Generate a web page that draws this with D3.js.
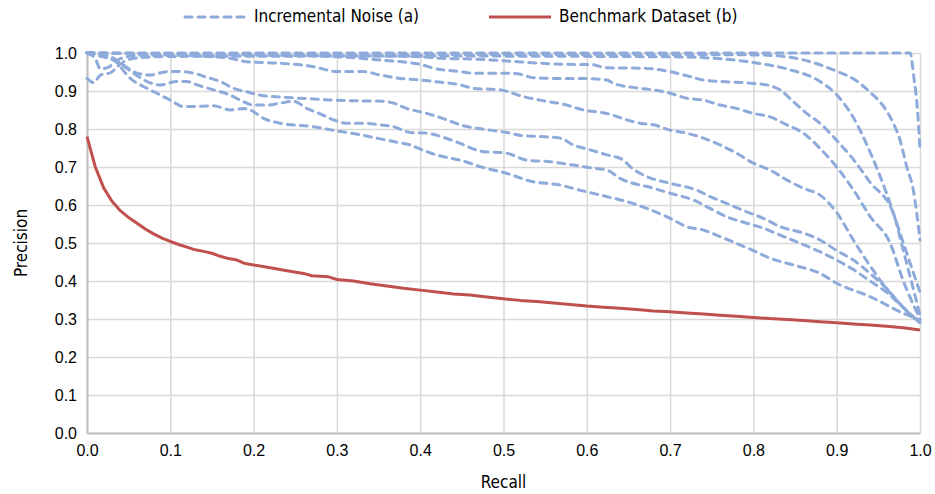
<!DOCTYPE html>
<html>
<head>
<meta charset="utf-8">
<script src="https://cdn.jsdelivr.net/npm/d3@7"></script>
<style>
  html, body { margin: 0; padding: 0; background: #fff; }
  svg { display: block; font-family: "Liberation Sans Narrow", "DejaVu Sans Condensed", "Open Sans", sans-serif; }
</style>
</head>
<body>
<svg id="chart" width="935" height="494"></svg>
<script>
const X_TICKS = [0, 0.1, 0.2, 0.3, 0.4, 0.5, 0.6, 0.7, 0.8, 0.9, 1.0];
const Y_TICKS = [0, 0.1, 0.2, 0.3, 0.4, 0.5, 0.6, 0.7, 0.8, 0.9, 1.0];

// red: benchmark dataset (b)
const benchmark = [
  [0, 0.78], [0.01, 0.70], [0.02, 0.645], [0.03, 0.61], [0.04, 0.585], [0.05, 0.567],
  [0.06, 0.552], [0.07, 0.537], [0.08, 0.524], [0.09, 0.513], [0.1, 0.504], [0.11, 0.496],
  [0.12, 0.489], [0.13, 0.482], [0.14, 0.478], [0.15, 0.473], [0.16, 0.465], [0.17, 0.459],
  [0.18, 0.455], [0.19, 0.446], [0.2, 0.442], [0.22, 0.435], [0.24, 0.427], [0.26, 0.42],
  [0.27, 0.414], [0.29, 0.411], [0.3, 0.404], [0.32, 0.40], [0.34, 0.393], [0.36, 0.387],
  [0.38, 0.381], [0.4, 0.376], [0.42, 0.371], [0.44, 0.366], [0.46, 0.363], [0.48, 0.358],
  [0.5, 0.353], [0.52, 0.349], [0.54, 0.346], [0.56, 0.342], [0.58, 0.338], [0.6, 0.334],
  [0.62, 0.331], [0.64, 0.328], [0.66, 0.325], [0.68, 0.321], [0.7, 0.319], [0.72, 0.316],
  [0.74, 0.313], [0.76, 0.31], [0.78, 0.307], [0.8, 0.304], [0.82, 0.301], [0.84, 0.299],
  [0.86, 0.296], [0.88, 0.293], [0.9, 0.29], [0.92, 0.287], [0.94, 0.284], [0.96, 0.281],
  [0.98, 0.277], [1.0, 0.271],
];

// blue: incremental noise (a), one array per noise level
const noiseT1 = [
  [0, 1.0], [0.2, 1.0], [0.4, 1.0], [0.6, 1.0], [0.8, 1.0], [0.9, 1.0], [0.988, 1.0],
  [0.993, 0.93], [0.997, 0.85], [1.0, 0.745],
];
const noiseT2 = [
  [0, 1.0], [0.01, 0.985], [0.016, 0.958], [0.025, 0.962], [0.04, 0.985], [0.06, 0.993],
  [0.3, 0.996], [0.6, 0.996], [0.8, 0.995], [0.84, 0.99], [0.86, 0.982], [0.9, 0.952],
  [0.92, 0.932], [0.94, 0.897], [0.956, 0.86], [0.968, 0.815], [0.976, 0.771],
  [0.984, 0.701], [0.992, 0.639], [1.0, 0.508],
];
const noiseT3 = [
  [0, 0.933], [0.008, 0.922], [0.016, 0.942], [0.028, 0.948], [0.044, 0.977], [0.056, 0.986],
  [0.072, 0.989], [0.1, 0.991], [0.4, 0.992], [0.7, 0.99], [0.76, 0.985], [0.8, 0.975],
  [0.84, 0.958], [0.88, 0.925], [0.9, 0.89], [0.92, 0.83], [0.94, 0.74], [0.96, 0.63],
  [0.98, 0.5], [1.0, 0.37],
];
const noiseM3 = [
  [0, 1.0], [0.2, 0.995], [0.4, 0.99], [0.424, 0.986], [0.464, 0.984], [0.504, 0.979],
  [0.544, 0.973], [0.584, 0.97], [0.604, 0.97], [0.624, 0.961], [0.664, 0.96], [0.68, 0.958],
  [0.7, 0.951], [0.72, 0.94], [0.74, 0.929], [0.76, 0.925], [0.78, 0.923], [0.8, 0.92],
  [0.82, 0.914], [0.832, 0.903], [0.848, 0.872], [0.864, 0.841], [0.88, 0.815], [0.9, 0.77],
  [0.92, 0.72], [0.94, 0.66], [0.968, 0.578], [0.98, 0.48], [1.0, 0.31],
];
const noiseM2 = [
  [0, 1.0], [0.2, 0.995], [0.3, 0.99], [0.348, 0.982], [0.4, 0.97], [0.416, 0.96],
  [0.448, 0.951], [0.464, 0.947], [0.504, 0.947], [0.52, 0.944], [0.536, 0.935],
  [0.564, 0.933], [0.592, 0.933], [0.624, 0.929], [0.632, 0.92], [0.664, 0.907],
  [0.68, 0.903], [0.7, 0.894], [0.72, 0.881], [0.74, 0.876], [0.76, 0.863], [0.78, 0.854],
  [0.8, 0.841], [0.82, 0.832], [0.84, 0.811], [0.86, 0.789], [0.88, 0.749], [0.9, 0.7],
  [0.92, 0.64], [0.94, 0.57], [0.964, 0.5], [0.98, 0.4], [1.0, 0.3],
];
const noiseM1 = [
  [0, 1.0], [0.1, 0.995], [0.15, 0.99], [0.172, 0.986], [0.192, 0.977], [0.232, 0.973],
  [0.272, 0.964], [0.3, 0.951], [0.332, 0.951], [0.352, 0.942], [0.376, 0.933], [0.4, 0.929],
  [0.416, 0.925], [0.448, 0.916], [0.464, 0.907], [0.496, 0.903], [0.524, 0.885],
  [0.544, 0.876], [0.572, 0.865], [0.596, 0.85], [0.624, 0.841], [0.648, 0.824],
  [0.664, 0.815], [0.68, 0.811], [0.7, 0.797], [0.72, 0.789], [0.74, 0.776], [0.76, 0.758],
  [0.78, 0.736], [0.8, 0.71], [0.82, 0.692], [0.84, 0.666], [0.86, 0.644], [0.88, 0.626],
  [0.9, 0.58], [0.92, 0.508], [0.94, 0.44], [0.96, 0.38], [0.98, 0.33], [1.0, 0.29],
];
const noiseL3 = [
  [0, 1.0], [0.02, 0.995], [0.032, 0.986], [0.044, 0.968], [0.06, 0.947], [0.076, 0.942],
  [0.096, 0.951], [0.112, 0.951], [0.128, 0.947], [0.144, 0.936], [0.16, 0.925],
  [0.176, 0.907], [0.192, 0.898], [0.208, 0.889], [0.24, 0.883], [0.264, 0.88],
  [0.296, 0.876], [0.328, 0.874], [0.348, 0.874], [0.368, 0.868], [0.384, 0.854],
  [0.408, 0.841], [0.432, 0.824], [0.448, 0.811], [0.484, 0.797], [0.504, 0.791],
  [0.524, 0.782], [0.544, 0.78], [0.568, 0.776], [0.584, 0.758], [0.604, 0.745],
  [0.624, 0.732], [0.644, 0.718], [0.652, 0.701], [0.672, 0.675], [0.7, 0.657],
  [0.732, 0.639], [0.748, 0.622], [0.768, 0.604], [0.792, 0.582], [0.812, 0.565],
  [0.832, 0.543], [0.86, 0.526], [0.88, 0.508], [0.9, 0.48], [0.92, 0.455], [0.94, 0.42],
  [0.96, 0.38], [0.98, 0.33], [1.0, 0.29],
];
const noiseL2 = [
  [0, 1.0], [0.02, 0.99], [0.036, 0.977], [0.056, 0.947], [0.072, 0.925], [0.088, 0.916],
  [0.108, 0.925], [0.12, 0.925], [0.132, 0.916], [0.152, 0.903], [0.172, 0.889],
  [0.184, 0.876], [0.2, 0.863], [0.216, 0.863], [0.232, 0.868], [0.248, 0.873],
  [0.264, 0.854], [0.28, 0.84], [0.296, 0.824], [0.312, 0.815], [0.332, 0.815],
  [0.352, 0.811], [0.368, 0.806], [0.388, 0.791], [0.408, 0.789], [0.432, 0.775],
  [0.448, 0.762], [0.472, 0.742], [0.504, 0.736], [0.528, 0.718], [0.556, 0.714],
  [0.584, 0.705], [0.604, 0.698], [0.624, 0.692], [0.64, 0.67], [0.68, 0.644], [0.7, 0.631],
  [0.728, 0.613], [0.748, 0.591], [0.768, 0.569], [0.792, 0.552], [0.812, 0.539],
  [0.832, 0.521], [0.852, 0.503], [0.88, 0.477], [0.9, 0.455], [0.92, 0.43], [0.94, 0.4],
  [0.96, 0.37], [0.98, 0.33], [1.0, 0.29],
];
const noiseL1 = [
  [0, 1.0], [0.02, 0.99], [0.032, 0.982], [0.052, 0.933], [0.072, 0.907], [0.084, 0.894],
  [0.1, 0.876], [0.116, 0.859], [0.128, 0.859], [0.152, 0.861], [0.172, 0.85],
  [0.188, 0.854], [0.196, 0.85], [0.212, 0.828], [0.232, 0.815], [0.272, 0.806],
  [0.3, 0.795], [0.32, 0.788], [0.352, 0.774], [0.368, 0.767], [0.388, 0.758], [0.408, 0.74],
  [0.432, 0.725], [0.448, 0.718], [0.472, 0.701], [0.504, 0.683], [0.536, 0.661],
  [0.564, 0.654], [0.592, 0.639], [0.624, 0.622], [0.648, 0.609], [0.672, 0.591],
  [0.7, 0.565], [0.72, 0.543], [0.74, 0.534], [0.76, 0.517], [0.78, 0.499], [0.8, 0.48],
  [0.82, 0.46], [0.848, 0.442], [0.88, 0.42], [0.9, 0.394], [0.94, 0.359], [0.98, 0.315],
  [1.0, 0.297],
];

const noiseSeries = [noiseL1, noiseL2, noiseL3, noiseM1, noiseM2, noiseM3, noiseT3, noiseT2, noiseT1];

const BLUE = '#8eaadb';
const RED = '#c0504d';
const GRID = '#d9d9d9';
const AXIS = '#bfbfbf';

const margin = { top: 53, right: 15, bottom: 61, left: 87 };
const W = 935;
const H = 494;
const innerW = W - margin.left - margin.right;
const innerH = H - margin.top - margin.bottom;

const svg = d3.select('#chart');
const x = d3.scaleLinear().domain([0, 1]).range([0, innerW]);
const y = d3.scaleLinear().domain([0, 1]).range([innerH, 0]);

const g = svg.append('g').attr('transform', `translate(${margin.left},${margin.top})`);

// grid
g.append('g')
  .call(d3.axisBottom(x).tickValues(X_TICKS).tickSize(innerH).tickFormat(''))
  .call(a => a.select('.domain').remove())
  .call(a => a.selectAll('line').attr('stroke', GRID).attr('stroke-width', 1.5));
g.append('g')
  .call(d3.axisLeft(y).tickValues(Y_TICKS).tickSize(-innerW).tickFormat(''))
  .call(a => a.select('.domain').remove())
  .call(a => a.selectAll('line').attr('stroke', GRID).attr('stroke-width', 1.5));

// axes
g.append('g')
  .attr('transform', `translate(0,${innerH})`)
  .call(d3.axisBottom(x).tickValues(X_TICKS).tickSize(0).tickPadding(12).tickFormat(d3.format('.1f')))
  .call(a => a.select('.domain').attr('stroke', AXIS).attr('stroke-width', 2))
  .call(a => a.selectAll('text').attr('fill', '#000').attr('font-size', 16).attr('font-family', null));
g.append('g')
  .call(d3.axisLeft(y).tickValues(Y_TICKS).tickSize(0).tickPadding(10).tickFormat(d3.format('.1f')))
  .call(a => a.select('.domain').attr('stroke', AXIS).attr('stroke-width', 2))
  .call(a => a.selectAll('text').attr('fill', '#000').attr('font-size', 16).attr('font-family', null));

g.append('text')
  .attr('x', innerW / 2)
  .attr('y', innerH + 55)
  .attr('text-anchor', 'middle')
  .attr('font-size', 17)
  .text('Recall');
g.append('text')
  .attr('transform', `translate(${22 - margin.left},${innerH / 2}) rotate(-90)`)
  .attr('text-anchor', 'middle')
  .attr('dominant-baseline', 'middle')
  .attr('font-size', 17)
  .text('Precision');

// series
const blueLine = d3.line().x(d => x(d[0])).y(d => y(d[1])).curve(d3.curveMonotoneX);
const redLine = d3.line().x(d => x(d[0])).y(d => y(d[1]));

g.selectAll('path.noise').data(noiseSeries).join('path')
  .attr('class', 'noise')
  .attr('d', blueLine)
  .attr('fill', 'none')
  .attr('stroke', BLUE)
  .attr('stroke-width', 3)
  .attr('stroke-linecap', 'round')
  .attr('stroke-dasharray', '7,6');

g.append('path')
  .datum(benchmark)
  .attr('d', redLine)
  .attr('fill', 'none')
  .attr('stroke', RED)
  .attr('stroke-width', 3)
  .attr('stroke-linejoin', 'round');

// legend
const legend = svg.append('g').attr('transform', 'translate(0,17)');
legend.append('line')
  .attr('x1', 185).attr('x2', 245).attr('y1', 0).attr('y2', 0)
  .attr('stroke', BLUE).attr('stroke-width', 3)
  .attr('stroke-linecap', 'round').attr('stroke-dasharray', '7,6');
legend.append('text')
  .attr('x', 254).attr('y', 0)
  .attr('dominant-baseline', 'middle')
  .attr('font-size', 17)
  .text('Incremental Noise (a)');
legend.append('line')
  .attr('x1', 489).attr('x2', 551).attr('y1', 0).attr('y2', 0)
  .attr('stroke', RED).attr('stroke-width', 3);
legend.append('text')
  .attr('x', 559).attr('y', 0)
  .attr('dominant-baseline', 'middle')
  .attr('font-size', 17)
  .text('Benchmark Dataset (b)');
</script>
</body>
</html>
